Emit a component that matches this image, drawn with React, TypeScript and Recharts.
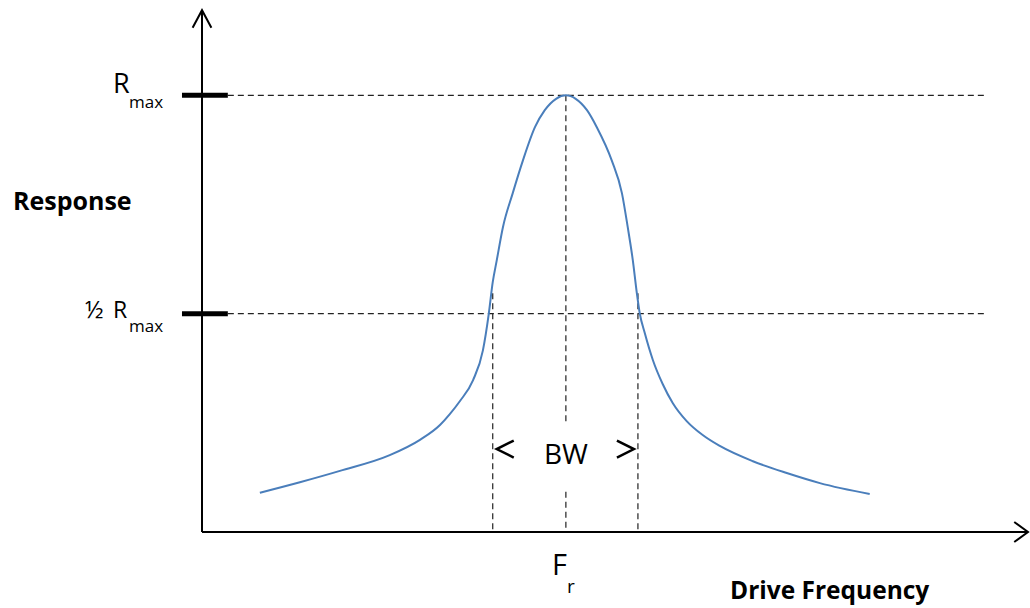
import React from 'react';
import { ComposedChart, Line, XAxis, YAxis, ReferenceLine, ReferenceDot } from 'recharts';

// drive frequency, in units of the resonant frequency
const freq = [
  0.159, 0.269, 0.379, 0.516, 0.599, 0.654, 0.681, 0.709, 0.745, 0.772, 0.788, 0.799,
  0.81, 0.827, 0.854, 0.882, 0.915, 0.942, 0.973, 1.0, 1.027, 1.058, 1.085, 1.126,
  1.154, 1.17, 1.184, 1.195, 1.203, 1.217, 1.239, 1.266, 1.294, 1.332, 1.376, 1.423,
  1.514, 1.607, 1.698, 1.835,
];
// response, as a fraction of Rmax
const response = [
  0.09, 0.114, 0.14, 0.176, 0.211, 0.245, 0.27, 0.3, 0.348, 0.416, 0.499, 0.572,
  0.622, 0.698, 0.776, 0.851, 0.927, 0.966, 0.992, 1.0, 0.992, 0.966, 0.927, 0.851,
  0.776, 0.698, 0.622, 0.547, 0.501, 0.455, 0.394, 0.339, 0.295, 0.254, 0.222, 0.197,
  0.162, 0.135, 0.112, 0.087,
];

const RMAX = 1;
const HALF = 0.5;
const FR = 1;
const BW_LOW = 0.799;
const BW_HIGH = 1.198;

const data = freq.map((f, i) => ({ f, r: response[i] }));

const FONT = "'Open Sans', sans-serif";
const DASH = '6 4';
const DASH_COLOR = '#222';

// axis line with an open arrowhead at its far end
const arrowLine = (len: number, deg: number) => (p: any) => {
  const { x1, y1, x2, y2 } = p;
  const ang = Math.atan2(y2 - y1, x2 - x1);
  const a = (deg * Math.PI) / 180;
  const ax1 = x2 - len * Math.cos(ang - a);
  const ay1 = y2 - len * Math.sin(ang - a);
  const ax2 = x2 - len * Math.cos(ang + a);
  const ay2 = y2 - len * Math.sin(ang + a);
  return (
    <g>
      <line x1={x1} y1={y1} x2={x2} y2={y2} stroke="#000" strokeWidth={2} />
      <polyline
        points={`${ax1},${ay1} ${x2},${y2} ${ax2},${ay2}`}
        fill="none"
        stroke="#000"
        strokeWidth={2}
      />
    </g>
  );
};

const chevron = (dir: number) => (p: any) => {
  const tip = p.cx + dir * 4;
  const back = p.cx + dir * 21;
  return (
    <polyline
      points={`${back},${p.cy - 8.5} ${tip},${p.cy} ${back},${p.cy + 8.5}`}
      fill="none"
      stroke="#000"
      strokeWidth={2.5}
    />
  );
};

const rmaxLabel = (half: boolean) => (p: any) => (
  <g fontFamily={FONT} fill="#000">
    {half && (
      <text x={p.cx - 117} y={p.cy + 4} fontSize={24}>
        ½
      </text>
    )}
    <text x={p.cx - 89} y={p.cy + (half ? 4 : -2)} fontSize={half ? 23 : 27}>
      R
    </text>
    <text x={p.cx - 73} y={p.cy + (half ? 18 : 13)} fontSize={17}>
      max
    </text>
  </g>
);

const frLabel = (p: any) => (
  <g fontFamily={FONT} fill="#000">
    <text x={p.cx - 14} y={p.cy + 43} fontSize={29}>
      F
    </text>
    <text x={p.cx + 1} y={p.cy + 61} fontSize={19}>
      r
    </text>
  </g>
);

const textShape = (label: string, dx: number, dy: number, size: number, bold: boolean, anchor: string) => (p: any) => (
  <text
    x={p.cx + dx}
    y={p.cy + dy}
    fontFamily={FONT}
    fontSize={size}
    fontWeight={bold ? 700 : 400}
    textAnchor={anchor as any}
    fill="#000"
  >
    {label}
  </text>
);

export default function App() {
  return (
    <div style={{ position: 'absolute', left: 0, top: 0, background: '#fff' }}>
      <ComposedChart
        width={1030}
        height={608}
        data={data}
        margin={{ top: 8, right: 2, bottom: 76, left: 202 }}
      >
        <XAxis type="number" dataKey="f" domain={[0, 2.27]} hide allowDataOverflow />
        <YAxis type="number" domain={[0, 1.2]} hide allowDataOverflow />

        {/* guide lines */}
        <ReferenceLine
          segment={[{ x: 0.071, y: RMAX }, { x: 2.151, y: RMAX }]}
          stroke={DASH_COLOR}
          strokeWidth={1.2}
          strokeDasharray={DASH}
          ifOverflow="visible"
        />
        <ReferenceLine
          segment={[{ x: 0.071, y: HALF }, { x: 2.151, y: HALF }]}
          stroke={DASH_COLOR}
          strokeWidth={1.2}
          strokeDasharray={DASH}
          ifOverflow="visible"
        />
        <ReferenceLine
          segment={[{ x: FR, y: RMAX }, { x: FR, y: 0.249 }]}
          stroke={DASH_COLOR}
          strokeWidth={1.2}
          strokeDasharray={DASH}
          ifOverflow="visible"
        />
        <ReferenceLine
          segment={[{ x: FR, y: 0.092 }, { x: FR, y: 0 }]}
          stroke={DASH_COLOR}
          strokeWidth={1.2}
          strokeDasharray={DASH}
          ifOverflow="visible"
        />
        <ReferenceLine
          segment={[{ x: BW_LOW, y: 0.547 }, { x: BW_LOW, y: 0 }]}
          stroke={DASH_COLOR}
          strokeWidth={1.2}
          strokeDasharray={DASH}
          ifOverflow="visible"
        />
        <ReferenceLine
          segment={[{ x: BW_HIGH, y: 0.547 }, { x: BW_HIGH, y: 0 }]}
          stroke={DASH_COLOR}
          strokeWidth={1.2}
          strokeDasharray={DASH}
          ifOverflow="visible"
        />

        {/* axes */}
        <ReferenceLine
          segment={[{ x: 0, y: 0 }, { x: 0, y: 1.195 }]}
          ifOverflow="visible"
          shape={arrowLine(20, 28)}
        />
        <ReferenceLine
          segment={[{ x: 0, y: 0 }, { x: 2.27, y: 0 }]}
          ifOverflow="visible"
          shape={arrowLine(17, 36)}
        />

        {/* level markers on the response axis */}
        <ReferenceLine
          segment={[{ x: -0.055, y: RMAX }, { x: 0.071, y: RMAX }]}
          stroke="#000"
          strokeWidth={5}
          ifOverflow="visible"
        />
        <ReferenceLine
          segment={[{ x: -0.055, y: HALF }, { x: 0.071, y: HALF }]}
          stroke="#000"
          strokeWidth={5}
          ifOverflow="visible"
        />

        <Line
          type="monotone"
          dataKey="r"
          stroke="#4A7EBB"
          strokeWidth={2}
          dot={false}
          activeDot={false}
          isAnimationActive={false}
        />

        {/* annotations */}
        <ReferenceDot x={0} y={RMAX} r={0} ifOverflow="visible" shape={rmaxLabel(false)} />
        <ReferenceDot x={0} y={HALF} r={0} ifOverflow="visible" shape={rmaxLabel(true)} />
        <ReferenceDot x={0} y={0.75} r={0} ifOverflow="visible" shape={textShape('Response', -189, 5.5, 25, true, 'start')} />
        <ReferenceDot x={1.725} y={0} r={0} ifOverflow="visible" shape={textShape('Drive Frequency', 0, 67, 24.5, true, 'middle')} />
        <ReferenceDot x={FR} y={0} r={0} ifOverflow="visible" shape={frLabel} />
        <ReferenceDot x={FR} y={0.156} r={0} ifOverflow="visible" shape={textShape('BW', 0, 0, 28, false, 'middle')} />
        <ReferenceDot x={BW_LOW} y={0.19} r={0} ifOverflow="visible" shape={chevron(1)} />
        <ReferenceDot x={BW_HIGH} y={0.19} r={0} ifOverflow="visible" shape={chevron(-1)} />
      </ComposedChart>
    </div>
  );
}
